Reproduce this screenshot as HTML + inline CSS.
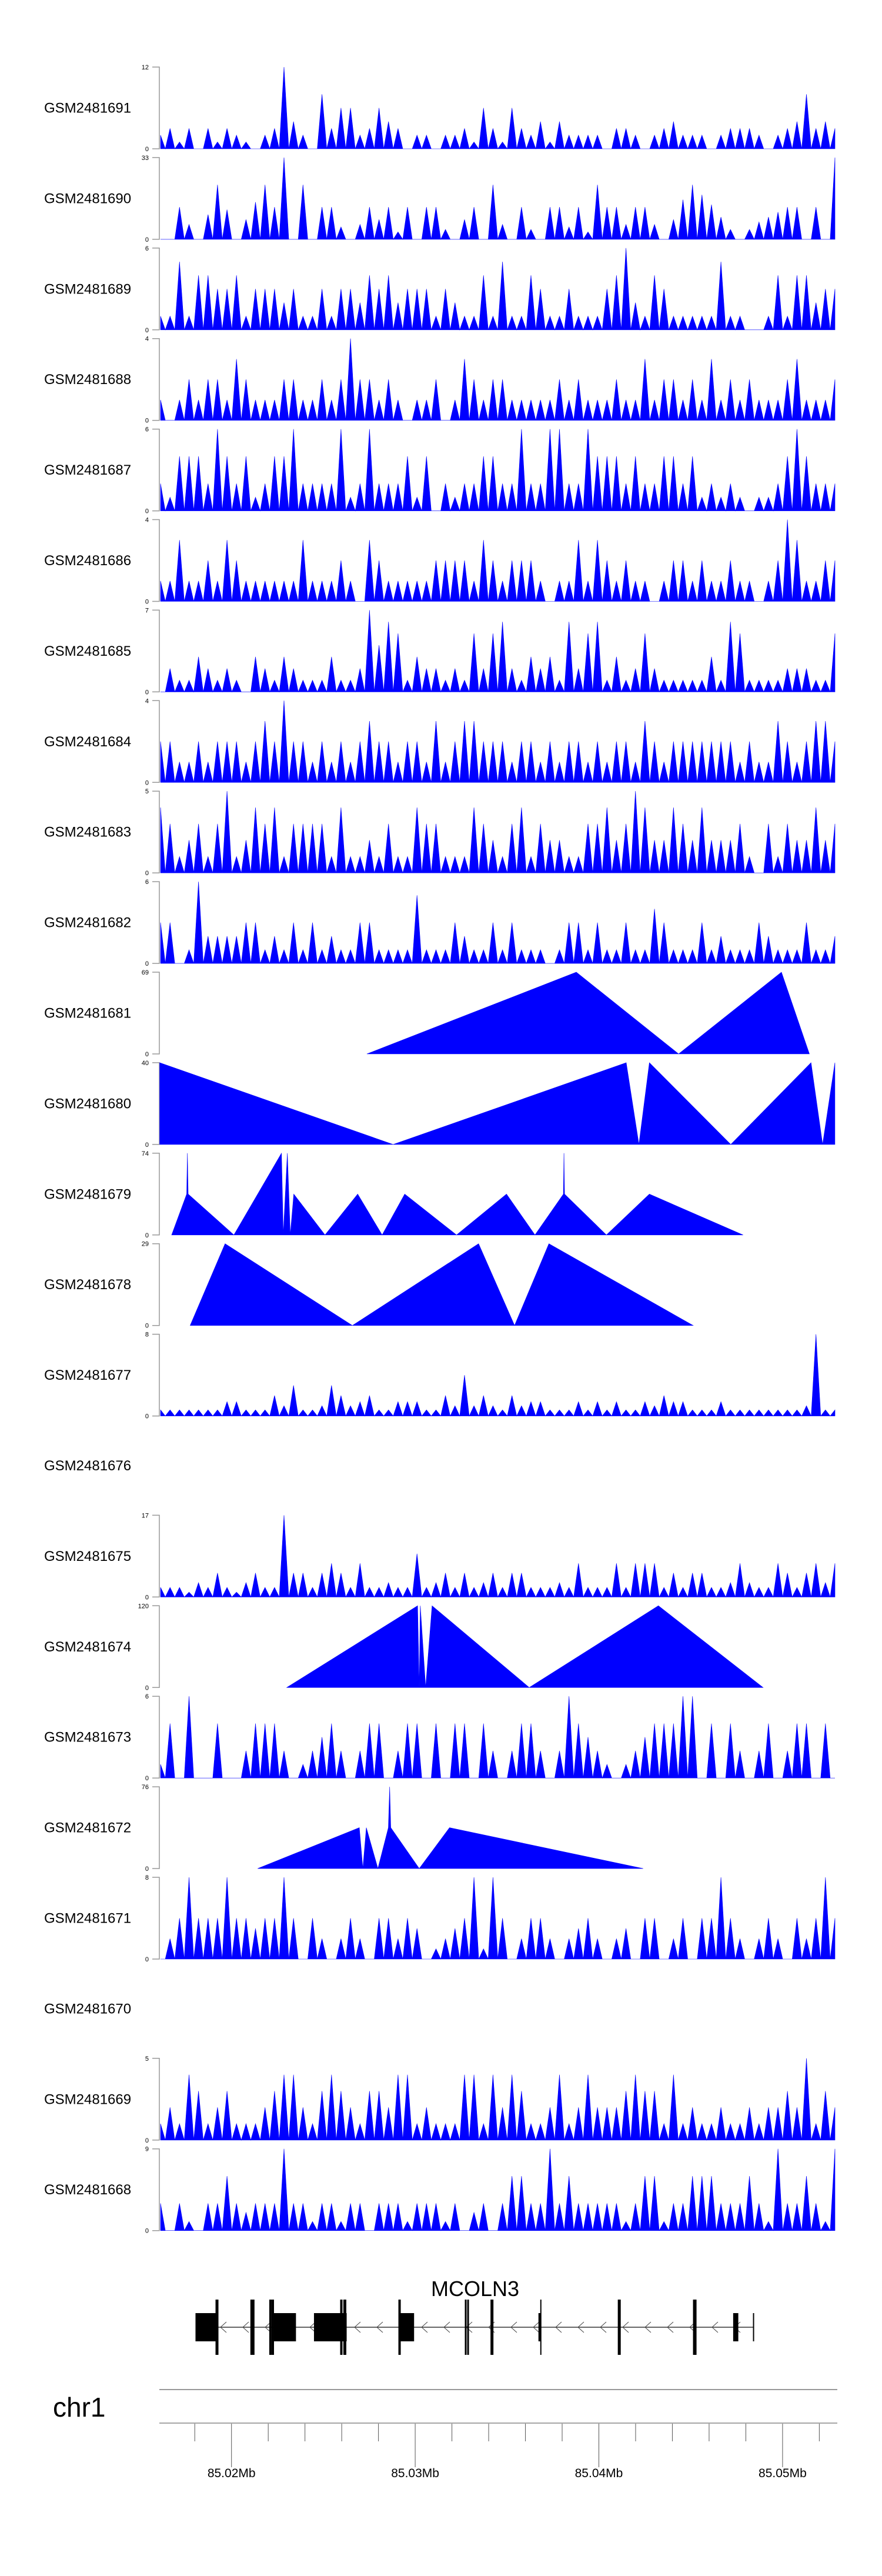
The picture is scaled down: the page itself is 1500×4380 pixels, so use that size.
<!DOCTYPE html>
<html><head><meta charset="utf-8"><title>Coverage tracks – MCOLN3</title>
<style>html,body{margin:0;padding:0;background:#fff}svg{display:block}text{font-family:"Liberation Sans",Arial,sans-serif}</style>
</head><body>
<svg id="chart" xmlns="http://www.w3.org/2000/svg" width="1500" height="4380" viewBox="0 0 1500 4380">
<rect width="1500" height="4380" fill="#fff"/>
<g id="tracks"></g>
<g id="gene"></g>
<g id="axis"></g>
</svg>
<script>
// ---------- data ----------
const sampleNames = ["GSM2481691","GSM2481690","GSM2481689","GSM2481688","GSM2481687","GSM2481686","GSM2481685","GSM2481684","GSM2481683","GSM2481682","GSM2481681","GSM2481680","GSM2481679","GSM2481678","GSM2481677","GSM2481676","GSM2481675","GSM2481674","GSM2481673","GSM2481672","GSM2481671","GSM2481670","GSM2481669","GSM2481668"];
const axisMax = [12,33,6,4,6,4,7,4,5,6,69,40,74,29,8,null,17,120,6,76,8,null,5,9];
// dense tracks: coverage values in 72 evenly spaced bins
const bins91 = [2,3,1,3,0,3,1,3,2,1,0,2,3,12,4,2,0,8,3,6,6,2,3,6,4,3,0,2,2,0,2,2,3,1,6,3,1,6,3,2,4,1,4,2,2,2,2,0,3,3,2,0,2,3,4,2,2,2,0,2,3,3,3,2,0,2,3,4,8,3,4,3];
const bins90 = [0,0,13,6,0,10,22,12,0,8,15,22,13,33,0,22,0,13,13,5,0,6,13,8,13,3,13,0,13,13,4,0,8,13,0,22,6,0,13,4,0,13,13,5,13,3,22,13,13,6,13,13,6,0,8,16,22,18,14,9,4,0,4,7,9,11,13,13,0,13,0,33];
const bins89 = [1,1,5,1,4,4,3,3,4,1,3,3,3,2,3,1,1,3,1,3,3,2,4,3,4,2,3,3,3,1,3,2,1,1,4,1,5,1,1,4,3,1,1,3,1,1,1,3,4,6,2,1,4,3,1,1,1,1,1,5,1,1,0,0,1,4,1,4,4,2,3,3];
const bins88 = [1,0,1,2,1,2,2,1,3,2,1,1,1,2,2,1,1,2,1,2,4,2,2,1,2,1,0,1,1,2,0,1,3,2,1,2,2,1,1,1,1,1,2,1,2,1,1,1,2,1,1,3,1,2,2,1,2,1,3,1,2,1,2,1,1,1,2,3,1,1,1,2];
const bins87 = [2,1,4,4,4,2,6,4,2,4,1,2,4,4,6,2,2,2,2,6,1,2,6,2,2,2,4,1,4,0,2,1,2,2,4,4,2,2,6,2,2,6,6,2,2,6,4,4,4,2,4,2,2,4,4,2,4,1,2,1,2,1,0,1,1,2,4,6,4,2,2,2];
const bins86 = [1,1,3,1,1,2,1,3,2,1,1,1,1,1,1,3,1,1,1,2,1,0,3,2,1,1,1,1,1,2,2,2,2,1,3,2,1,2,2,2,1,0,1,1,3,1,3,2,1,2,1,1,0,1,2,2,1,2,1,1,2,1,1,0,1,2,4,3,1,1,2,2];
const bins85 = [0,2,1,1,3,2,1,2,1,0,3,2,1,3,2,1,1,1,3,1,1,2,7,4,6,5,1,3,2,2,1,2,1,5,2,5,6,2,1,3,2,3,1,6,2,5,6,1,3,1,2,5,2,1,1,1,1,1,3,1,6,5,1,1,1,1,2,2,2,1,1,5];
const bins84 = [2,2,1,1,2,1,2,2,2,1,2,3,2,4,2,2,1,2,1,2,1,2,3,2,2,1,2,2,1,3,1,2,3,3,2,2,2,1,2,2,1,2,1,2,2,1,2,1,2,2,1,3,2,1,2,2,2,2,2,2,2,1,2,1,1,3,2,1,2,3,3,2];
const bins83 = [4,3,1,2,3,1,3,5,1,2,4,3,4,1,3,3,3,3,1,4,1,1,2,1,3,1,1,4,3,3,1,1,1,4,3,2,1,3,4,1,3,2,2,1,1,3,3,4,2,3,5,4,2,2,4,3,2,4,2,2,2,3,1,0,3,1,3,2,2,4,2,3];
const bins82 = [3,3,0,1,6,2,2,2,2,3,3,1,2,1,3,1,3,1,2,1,1,3,3,1,1,1,1,5,1,1,1,3,2,1,1,3,1,3,1,1,1,0,1,3,3,1,3,1,1,3,1,1,4,3,1,1,1,3,1,2,1,1,1,3,2,1,1,1,3,1,1,2];
const bins77 = [0.6,0.6,0.6,0.6,0.6,0.6,0.6,1.4,1.4,0.6,0.6,0.6,2,1,3,0.6,0.6,1,3,2,1,1.4,2,0.6,0.6,1.4,1.4,1.4,0.6,0.6,2,1,4,1,2,1,0.6,2,1,1.4,1.4,0.6,0.6,0.6,1.4,0.6,1.4,0.6,1.4,0.6,0.6,1.4,1,2,1.4,1.4,0.6,0.6,0.6,1.4,0.6,0.6,0.6,0.6,0.6,0.6,0.6,0.6,1,8,0.6,0.6];
const bins75 = [2,2,2,1,3,2,5,2,1,3,5,2,2,17,5,5,2,5,7,5,2,7,2,2,3,2,2,9,2,3,5,2,5,2,3,5,2,5,5,2,2,2,3,2,7,2,2,2,7,2,7,7,7,2,5,2,5,5,2,2,3,7,3,2,2,7,5,2,5,7,3,7];
const bins73 = [1,4,0,6,0,0,4,0,0,2,4,4,4,2,0,1,2,3,4,2,0,2,4,4,0,2,4,4,0,4,0,4,4,0,4,2,0,2,4,4,2,0,2,6,4,3,2,1,0,1,2,3,4,4,4,6,6,0,4,0,4,2,0,2,4,0,2,4,4,0,4,0];
const bins71 = [0,2,4,8,4,4,4,8,4,4,3,4,4,8,4,0,4,2,0,2,4,2,0,4,4,2,4,3,0,1,2,3,4,8,1,8,4,0,2,4,4,2,0,2,3,4,2,0,2,3,0,4,4,0,2,4,0,4,4,8,4,2,0,2,4,2,0,4,2,4,8,4];
const bins69 = [1,2,1,4,3,1,2,3,1,1,1,2,3,4,4,2,1,3,4,3,2,1,3,3,2,4,4,1,2,1,1,1,4,4,1,4,2,4,3,1,1,2,4,1,2,4,2,2,2,3,4,3,3,1,4,1,2,1,1,2,1,1,2,1,2,2,3,2,5,1,3,2];
const bins68 = [3,0,3,1,0,3,3,6,3,2,3,3,3,9,3,3,1,3,3,1,3,3,0,3,3,3,1,3,3,3,1,3,0,2,3,0,3,6,6,3,3,9,3,6,3,3,3,3,3,1,3,6,6,1,3,3,6,6,6,3,3,3,6,3,1,9,3,3,6,3,1,9];
// sparse tracks: genomic positions (kb past 85.000 Mb) and values
const pos81 = [27.37,38.77,44.34,49.94,51.46];
const val81 = [0,69,0,69,0];
const pos80 = [16.09,28.80,41.49,42.18,42.75,47.18,51.55,52.18,52.85];
const val80 = [40,0,40,0,40,0,40,0,40];
const pos79 = [16.74,17.56,17.60,17.64,20.13,22.72,22.82,23.04,23.20,23.39,25.09,26.87,28.20,29.43,32.25,34.97,36.52,38.07,38.10,38.13,40.41,42.75,47.85];
const val79 = [0,37,74,37,0,74,0,74,0,37,0,37,0,37,0,37,0,37,74,37,0,37,0];
const pos78 = [17.75,19.65,26.58,33.45,35.41,37.28,45.13];
const val78 = [0,29,0,29,0,29,0];
const pos74 = [23.01,30.13,30.22,30.28,30.57,30.92,36.21,43.24,48.94];
const val74 = [0,120,0,120,0,120,0,120,0];
const pos72 = [21.42,26.96,27.15,27.34,27.97,28.54,28.61,28.67,30.22,31.87,42.41];
const val72 = [0,38,0,38,0,38,76,38,0,38,0];
// gene model (kb past 85.000 Mb)
const exonStart = [18.04,22.31,24.49,29.15,36.71,47.31];
const exonEnd   = [19.27,23.51,26.27,29.94,36.84,47.59];
const tallExon  = [19.21,21.14,22.12,22.25,25.98,26.17,29.15,32.75,32.88,34.18,36.84,41.11,45.22];
const tallWidth = [5,7,4,4,4,5,4,3,3,5,2,5,6];
const geneStart = 19.27, geneEnd = 48.42;
// axis ticks
const minorTicks = [18,20,22,24,26,28,30,32,34,36,38,40,42,44,46,48,50,52];
const majorTicks = [20,30,40,50];
const majorLabels = ["85.02Mb","85.03Mb","85.04Mb","85.05Mb"];

const denseBins = {0:bins91,1:bins90,2:bins89,3:bins88,4:bins87,5:bins86,6:bins85,7:bins84,8:bins83,9:bins82,14:bins77,16:bins75,18:bins73,20:bins71,22:bins69,23:bins68};
const sparse = {10:[pos81,val81],11:[pos80,val80],12:[pos79,val79],13:[pos78,val78],17:[pos74,val74],19:[pos72,val72]};

// ---------- scales ----------
const NS = "http://www.w3.org/2000/svg";
const PX0 = 271, PX1 = 1424;
function xKb(kb){ return 393.7 + (kb - 20) * 31.24; }
function xBin(i, n){ return 273 + i * (1147 / (n - 1)); }
const trackTop0 = 114, trackPitch = 153.9, trackH = 139;
function mk(tag, attrs, parent){ const e = document.createElementNS(NS, tag); for (const k in attrs) e.setAttribute(k, attrs[k]); parent.appendChild(e); return e; }

const gT = document.getElementById('tracks');
sampleNames.forEach((name, i) => {
  const top = trackTop0 + i * trackPitch, base = top + trackH;
  const g = mk('g', {}, gT);
  
  
  const lab = mk('text', {x: 75, y: top + trackH / 2 + 8, 'font-size': 24, fill: '#000'}, g);
  lab.textContent = name;
  
  
  const mx = axisMax[i];
  if (mx === null) return;
  const yv = v => base - v / mx * trackH;
  const ax = mk('path', {d: `M259 ${top}H271V${base}H259`, stroke: '#999', 'stroke-width': 1.5, fill: 'none'}, g);
  
  
  const tMax = mk('text', {x: 253, y: top + 4, 'font-size': 11, 'text-anchor': 'end', fill: '#000'}, g);
  tMax.textContent = String(mx);
  
  
  const tZero = mk('text', {x: 253, y: base + 4, 'font-size': 11, 'text-anchor': 'end', fill: '#000'}, g);
  tZero.textContent = '0';
  
  
  let pts = [];
  if (denseBins[i]) {
    const b = denseBins[i], n = b.length;
    pts.push([xBin(0, n), base]);
    b.forEach((v, k) => {
      pts.push([xBin(k, n), yv(v)]);
      if (k < n - 1) pts.push([(xBin(k, n) + xBin(k + 1, n)) / 2, base]);
    });
    pts.push([xBin(n - 1, n), base]);
  } else if (sparse[i]) {
    const [p, v] = sparse[i];
    pts.push([xKb(p[0]), base]);
    p.forEach((kb, k) => pts.push([xKb(kb), yv(v[k])]));
    pts.push([xKb(p[p.length - 1]), base]);
  }
  const poly = mk('polygon', {points: pts.map(q => q[0].toFixed(1) + ',' + q[1].toFixed(1)).join(' '), fill: '#0000ff', stroke: '#0000ff', 'stroke-width': 0.6}, g);
  
  
});

// ---------- gene model ----------
const gG = document.getElementById('gene');
const gname = mk('text', {x: 808, y: 3904, 'font-size': 36, 'text-anchor': 'middle', fill: '#000'}, gG);
gname.textContent = 'MCOLN3';


const intr = mk('line', {x1: xKb(geneStart), x2: xKb(geneEnd), y1: 3957, y2: 3957, stroke: '#333', 'stroke-width': 1.5}, gG);


for (let x = 375; x < 1275; x += 38) {
  const c = mk('polyline', {points: `${x+10},3948 ${x},3957 ${x+10},3966`, stroke: '#444', 'stroke-width': 1, fill: 'none'}, gG);
  
  
}
exonStart.forEach((s, k) => {
  const r = mk('rect', {x: xKb(s), y: 3933, width: xKb(exonEnd[k]) - xKb(s), height: 48, fill: '#000'}, gG);
  
  
});
tallExon.forEach((s, k) => {
  const r = mk('rect', {x: xKb(s) - tallWidth[k] / 2, y: 3910, width: tallWidth[k], height: 94, fill: '#000'}, gG);
  
  
});
const endL = mk('rect', {x: xKb(geneEnd) - 1, y: 3933, width: 2, height: 48, fill: '#000'}, gG);



// ---------- genome axis ----------
const gA = document.getElementById('axis');
const chr = mk('text', {x: 90, y: 4109, 'font-size': 46, fill: '#000'}, gA);
chr.textContent = 'chr1';


const l1 = mk('line', {x1: PX0, x2: PX1, y1: 4063, y2: 4063, stroke: '#999', 'stroke-width': 2}, gA);


const l2 = mk('line', {x1: PX0, x2: PX1, y1: 4120, y2: 4120, stroke: '#888', 'stroke-width': 1.5}, gA);


minorTicks.forEach(t => {
  const major = majorTicks.indexOf(t) >= 0;
  const tk = mk('line', {x1: xKb(t), x2: xKb(t), y1: 4121, y2: major ? 4195 : 4151, stroke: '#555', 'stroke-width': 1}, gA);
  
  
});
majorTicks.forEach((t, k) => {
  const tl = mk('text', {x: xKb(t), y: 4212, 'font-size': 21, 'text-anchor': 'middle', fill: '#000'}, gA);
  tl.textContent = majorLabels[k];
  
  
});
</script>
</body></html>
